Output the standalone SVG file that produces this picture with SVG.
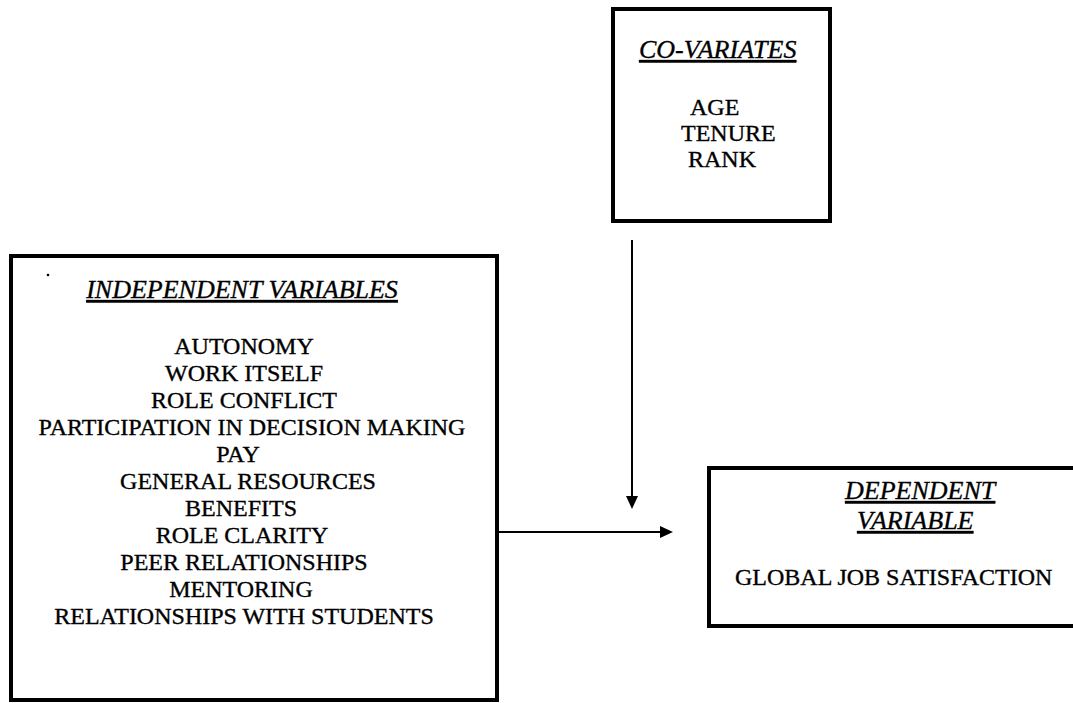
<svg xmlns="http://www.w3.org/2000/svg" width="1073" height="703" viewBox="0 0 1073 703">
<style>
.box{fill:#fff;stroke:#000;stroke-width:4}
.t{font-family:"Liberation Serif","Times New Roman",serif;font-size:24px;fill:#000;stroke:#000;stroke-width:0.35}
.h{font-family:"Liberation Serif","Times New Roman",serif;font-size:26px;font-style:italic;fill:#000;stroke:#000;stroke-width:0.35;text-decoration:underline}
.c{stroke:#000;stroke-width:2;fill:none}
</style>
<defs>
<marker id="ah" markerUnits="userSpaceOnUse" markerWidth="14" markerHeight="12" refX="0" refY="6" orient="auto">
<path d="M0,0 L13,6 L0,12 Z" fill="#000"/>
</marker>
</defs>
<rect width="1073" height="703" fill="#fff"/>
<g id="covariates">
<rect class="box" x="613" y="9" width="217" height="212"/>
<text class="h" x="639" y="58">CO-VARIATES</text>
<text class="t" x="690" y="115">AGE</text>
<text class="t" x="681" y="141">TENURE</text>
<text class="t" x="688" y="167">RANK</text>
</g>
<g id="independent">
<rect class="box" x="11" y="256" width="486" height="444"/>
<circle cx="48" cy="275" r="1.3" fill="#000"/>
<text class="h" x="242" y="298" text-anchor="middle">INDEPENDENT VARIABLES</text>
<g class="t" text-anchor="middle">
<text x="244" y="354">AUTONOMY</text>
<text x="244" y="381">WORK ITSELF</text>
<text x="244" y="408">ROLE CONFLICT</text>
<text x="252" y="435">PARTICIPATION IN DECISION MAKING</text>
<text x="238" y="462">PAY</text>
<text x="248" y="489">GENERAL RESOURCES</text>
<text x="241" y="516">BENEFITS</text>
<text x="242" y="543">ROLE CLARITY</text>
<text x="244" y="570">PEER RELATIONSHIPS</text>
<text x="241" y="597">MENTORING</text>
<text x="244" y="624">RELATIONSHIPS WITH STUDENTS</text>
</g>
</g>
<g id="dependent">
<rect class="box" x="709" y="468" width="370" height="158"/>
<text class="h" x="845" y="499">DEPENDENT</text>
<text class="h" x="857" y="529">VARIABLE</text>
<text class="t" x="735" y="585">GLOBAL JOB SATISFACTION</text>
</g>
<g id="connectors">
<line class="c" x1="632" y1="240" x2="632" y2="496" marker-end="url(#ah)"/>
<line class="c" x1="497" y1="532" x2="660" y2="532" marker-end="url(#ah)"/>
</g>
</svg>
